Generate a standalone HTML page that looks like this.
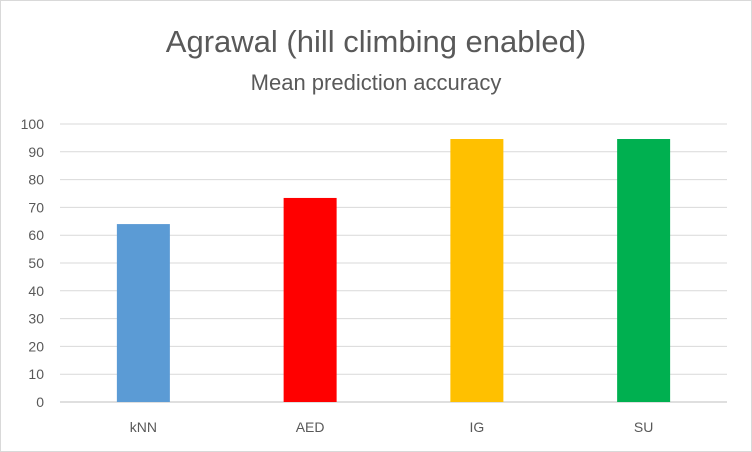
<!DOCTYPE html>
<html><head><meta charset="utf-8"><style>
body{margin:0;background:#fff;}
svg{display:block;font-family:"Liberation Sans",Calibri,sans-serif;}
</style></head><body>
<svg width="752" height="452">
<rect x="0.5" y="0.5" width="751" height="451" fill="#fff" stroke="#d9d9d9"/>
<text x="376" y="52" text-anchor="middle" font-size="31" fill="#595959">Agrawal (hill climbing enabled)</text>
<text x="376" y="90" text-anchor="middle" font-size="22" fill="#595959">Mean prediction accuracy</text>
<g id="grid"></g><g id="bars"></g><g id="labels"></g>
</svg>
<script>
const categories=["kNN","AED","IG","SU"];
const values=[64.0,73.4,94.6,94.6];
const colors=["#5b9bd5","#ff0000","#ffc000","#00b050"];
const ticks=[0,10,20,30,40,50,60,70,80,90,100];
const ns="http://www.w3.org/2000/svg";
const L=60,R=727,Y0=402,Y100=124;
const y=v=>Y0-(Y0-Y100)*v/100;
const bw=(R-L)/categories.length;
const x=i=>L+bw*(i+0.5);
const g=document.getElementById('grid'),b=document.getElementById('bars'),lb=document.getElementById('labels');
ticks.forEach(t=>{
 const l=document.createElementNS(ns,'line');
 l.setAttribute('x1',L);l.setAttribute('x2',R);l.setAttribute('y1',y(t));l.setAttribute('y2',y(t));
 l.setAttribute('stroke',t===0?'#bfbfbf':'#d9d9d9');l.setAttribute('stroke-width','1');
 
 
 g.appendChild(l);
 const tx=document.createElementNS(ns,'text');
 tx.setAttribute('x',44);tx.setAttribute('y',y(t)+5);tx.setAttribute('text-anchor','end');
 tx.setAttribute('font-size','14');tx.setAttribute('fill','#595959');tx.textContent=t;
 
 
 lb.appendChild(tx);
});
categories.forEach((c,i)=>{
 const r=document.createElementNS(ns,'rect');
 r.setAttribute('x',x(i)-26.5);r.setAttribute('width',53);
 r.setAttribute('y',y(values[i]));r.setAttribute('height',Y0-y(values[i]));
 r.setAttribute('fill',colors[i]);
 
 
 b.appendChild(r);
 const tx=document.createElementNS(ns,'text');
 tx.setAttribute('x',x(i));tx.setAttribute('y',432);tx.setAttribute('text-anchor','middle');
 tx.setAttribute('font-size','14');tx.setAttribute('fill','#595959');tx.textContent=c;
 
 
 lb.appendChild(tx);
});
</script>
</body></html>
